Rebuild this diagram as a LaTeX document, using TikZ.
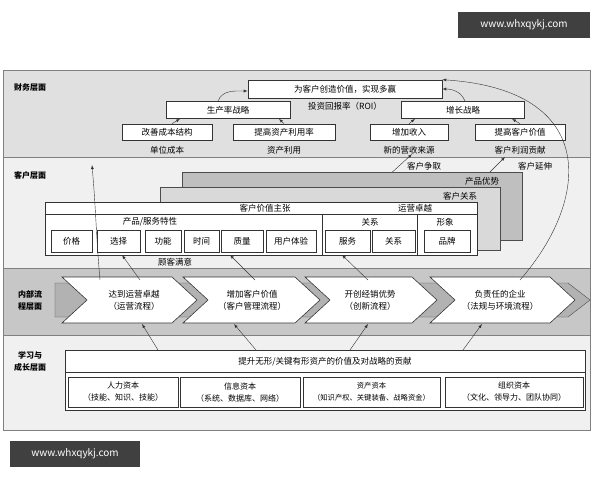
\documentclass[tikz,border=0pt]{standalone}
\usepackage{fontspec}
\setmainfont{Noto Sans CJK SC}
\begin{document}
\begin{tikzpicture}[x=1pt,y=-1pt,font=\fontsize{8.5}{10}\selectfont,
 bx/.style={draw=black!80,fill=white,line width=0.6pt,inner sep=0pt,align=center},
 lb/.style={inner sep=0pt,align=center},
 ar/.style={-latex,line width=0.4pt,black!80},
 wm/.style={fill=black!75,text=white,font=\fontsize{10}{12}\selectfont,inner sep=0pt,minimum height=26}]
\useasboundingbox (0,0) rectangle (600,480);
\fill[white] (0,0) rectangle (600,480);
% bands
\fill[black!12] (3,70) rectangle (590,157);
\fill[black!6] (3,157) rectangle (590,268);
\fill[black!22] (3,268) rectangle (590,335);
\fill[black!6] (3,335) rectangle (590,430);
\draw[black!50] (3,70) rectangle (590,430);
\draw[black!50] (3,157)--(590,157) (3,268)--(590,268) (3,335)--(590,335);
\node[lb,font=\fontsize{8}{10}\selectfont\bfseries] (L1) at (30,88) {财务层面};
\node[lb,font=\fontsize{8}{10}\selectfont\bfseries] (L2) at (30,175) {客户层面};
\node[lb,font=\fontsize{8}{12}\selectfont\bfseries] (L3) at (30,300) {内部流\\程层面};
\node[lb,font=\fontsize{8}{12}\selectfont\bfseries] (L4) at (30,361) {学习与\\成长层面};
% finance
\node[bx,minimum width=194,minimum height=18] (top) at (345,89) {为客户创造价值，实现多赢};
\node[lb] (roi) at (345,106) {投资回报率（ROI）};
\node[bx,minimum width=124,minimum height=17] (prod) at (228,110) {生产率战略};
\node[bx,minimum width=123,minimum height=17] (grow) at (463,110) {增长战略};
\node[bx,minimum width=90,minimum height=16] (f1) at (167,132) {改善成本结构};
\node[bx,minimum width=102,minimum height=16] (f2) at (284,132) {提高资产利用率};
\node[bx,minimum width=78,minimum height=16] (f3) at (409,132) {增加收入};
\node[bx,minimum width=90,minimum height=16] (f4) at (520,132) {提高客户价值};
\node[lb] (g1) at (167,150) {单位成本};
\node[lb] (g2) at (284,150) {资产利用};
\node[lb] (g3) at (409,150) {新的营收来源};
\node[lb] (g4) at (520,150) {客户利润贡献};
\draw[ar] (f1.north)++(5,0) -- ([xshift=13]f1.north |- prod.south);
\draw[ar] (f2.north) -- ([xshift=-5]f2.north |- prod.south);
\draw[ar] (f3.north) -- ([xshift=6]f3.north |- grow.south);
\draw[ar] (f4.north) -- ([xshift=-8]f4.north |- grow.south);
\draw[ar] ([xshift=-10]prod.north) to[out=70,in=180] ([yshift=-2]top.west);
\draw[ar] ([xshift=2]grow.north) to[out=110,in=0] ([yshift=0]top.east);
% customer
\node[lb] (c1) at (424,166) {客户争取};
\node[lb] (c2) at (535,166) {客户延伸};
\coordinate (c1s) at (388,176); \coordinate (c2s) at (490,172);
\draw[ar] (c1s) -- (g3.south -| 412,0);
\draw[ar] (c2s) -- (505,157);
\draw[black!70,fill=black!25] (182,172) rectangle (522,240);
\node[lb] (pa) at (482,181) {产品优势};
\draw[black!70,fill=black!15] (160,187) rectangle (500,250);
\node[lb] (kr) at (460,196) {客户关系};
\node[bx,minimum width=432,minimum height=53] (main) at (261,228.5) {};
\draw[black!80,line width=0.6pt] (45,214)--(477,214) (322,214)--(322,255) (417,214)--(417,255);
\node[lb] (vp) at (265,208) {客户价值主张};
\node[lb] (oe) at (415,208) {运营卓越};
\node[lb] (ps) at (150,222) {产品/服务特性};
\node[lb] (gx) at (370,222) {关系};
\node[lb] (xx) at (445,222) {形象};
\node[bx,minimum width=41,minimum height=22] (b1) at (71.5,241) {价格};
\node[bx,minimum width=43,minimum height=22] (b2) at (118.5,241) {选择};
\node[bx,minimum width=36,minimum height=22] (b3) at (163,241) {功能};
\node[bx,minimum width=35,minimum height=22] (b4) at (201.5,241) {时间};
\node[bx,minimum width=42,minimum height=22] (b5) at (242,241) {质量};
\node[bx,minimum width=50,minimum height=22] (b6) at (291,241) {用户体验};
\node[bx,minimum width=45,minimum height=22] (b7) at (347.5,241) {服务};
\node[bx,minimum width=43,minimum height=22] (b8) at (393.5,241) {关系};
\node[bx,minimum width=46,minimum height=22] (b9) at (447,241) {品牌};
\node[lb] (sat) at (175,262) {顾客满意};
% internal
\draw[black!70,fill=black!30] (55,283)--(568,283)--(590,300)--(568,317)--(55,317)--cycle;
\foreach \n/\a/\b in {p1/62/172,p2/183/295,p3/305/412,p4/430/550}{
 \draw[black!80,fill=white,line width=0.6pt] (\a,277)--(\b,277)--(\b+25,300)--(\b,323)--(\a,323)--(\a+25,300)--cycle;}
\node[lb,font=\fontsize{8.5}{12}\selectfont] (p1) at (134,300) {达到运营卓越\\（运营流程）};
\node[lb,font=\fontsize{8.5}{12}\selectfont] (p2) at (252,300) {增加客户价值\\（客户管理流程）};
\node[lb,font=\fontsize{8.5}{12}\selectfont] (p3) at (370,300) {开创经销优势\\（创新流程）};
\node[lb,font=\fontsize{8.5}{12}\selectfont] (p4) at (500,300) {负责任的企业\\（法规与环境流程）};
\coordinate (s1) at (140,280); \coordinate (s2) at (255,280); \coordinate (s3) at (368,280); \coordinate (s4) at (520,280); \coordinate (s0) at (100,280);
\draw[ar] (s1) -- (122,255);
\draw[ar] (s2) -- (230,255);
\draw[ar] (s3) -- (342,255);
\draw[ar] (s0) to[out=95,in=-85] (92,165);
\draw[ar] (s4) .. controls (590,200) and (600,90) .. (top.north east);
% learning
\node[bx,minimum width=520,minimum height=60] (lg) at (325,380) {};
\draw[black!80,line width=0.6pt] (65,372)--(585,372);
\node[lb] (lt) at (325,362) {提升无形/关键有形资产的价值及对战略的贡献};
\node[bx,minimum width=110,minimum height=30,font=\fontsize{8}{12}\selectfont] (k1) at (123,392) {人力资本\\（技能、知识、技能）};
\node[bx,minimum width=120,minimum height=30,font=\fontsize{8}{12}\selectfont] (k2) at (240,392) {信息资本\\（系统、数据库、网络）};
\node[bx,minimum width=137,minimum height=30,font=\fontsize{7.3}{12}\selectfont] (k3) at (371.5,392) {资产资本\\（知识产权、关键装备、战略资金）};
\node[bx,minimum width=138,minimum height=30,font=\fontsize{8}{12}\selectfont] (k4) at (514,392) {组织资本\\（文化、领导力、团队协同）};
\draw[ar] (158,350) -- (142,324);
\draw[ar] (256,350) -- (234,324);
\draw[ar] (350,350) -- (368,324);
\draw[ar] (463,350) -- (482,324);
% watermarks
\node[wm,minimum width=132] (w1) at (524,25) {www.whxqykj.com};
\node[wm,minimum width=130] (w2) at (75,454) {www.whxqykj.com};
\end{tikzpicture}
\end{document}
